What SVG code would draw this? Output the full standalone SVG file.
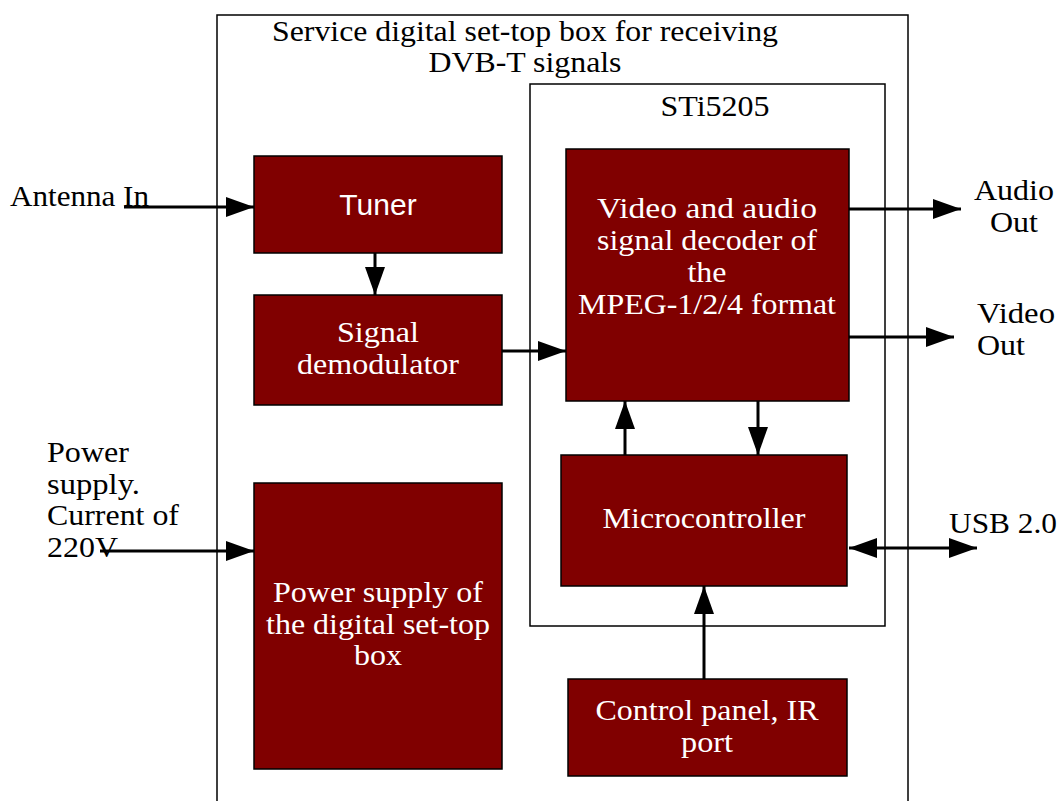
<svg xmlns="http://www.w3.org/2000/svg" width="1061" height="801" viewBox="0 0 1061 801">
<style>
.frame{fill:none;stroke:#000;stroke-width:1.5}
.blk{fill:#800000;stroke:#000;stroke-width:1.5}
.t{font-family:"Liberation Serif","Times New Roman",serif;font-size:29px;fill:#000}
.w{font-family:"Liberation Serif","Times New Roman",serif;font-size:29px;fill:#fff;text-anchor:middle}
.ws{font-family:"Liberation Sans",Arial,sans-serif;font-size:30px;fill:#fff;text-anchor:middle}
.c{stroke:#000;stroke-width:3;fill:none}
</style>
<defs>
<marker id="ah" markerWidth="28" markerHeight="20" refX="28" refY="10" orient="auto" markerUnits="userSpaceOnUse">
<path d="M0,0 L28,10 L0,20 Z" fill="#000"/>
</marker>
<marker id="as" markerWidth="28" markerHeight="20" refX="0" refY="10" orient="auto" markerUnits="userSpaceOnUse">
<path d="M28,0 L0,10 L28,20 Z" fill="#000"/>
</marker>
</defs>
<rect width="1061" height="801" fill="#fff"/>
<g id="outer">
<rect class="frame" x="217" y="15" width="691" height="800"/>
<text class="t" x="525" y="41" text-anchor="middle" textLength="506" lengthAdjust="spacingAndGlyphs">Service digital set-top box for receiving</text>
<text class="t" x="525" y="72" text-anchor="middle" textLength="193" lengthAdjust="spacingAndGlyphs">DVB-T signals</text>
</g>
<g id="sti5205">
<rect class="frame" x="530" y="84" width="355" height="542"/>
<text class="t" x="715" y="116" text-anchor="middle" textLength="109" lengthAdjust="spacingAndGlyphs">STi5205</text>
</g>
<g id="tuner">
<rect class="blk" x="254" y="156" width="248" height="97"/>
<text class="ws" x="378" y="215">Tuner</text>
</g>
<g id="demod">
<rect class="blk" x="254" y="295" width="248" height="110"/>
<text class="w" x="378" y="342" textLength="82" lengthAdjust="spacingAndGlyphs">Signal</text>
<text class="w" x="378" y="374" textLength="162" lengthAdjust="spacingAndGlyphs">demodulator</text>
</g>
<g id="power">
<rect class="blk" x="254" y="483" width="248" height="286"/>
<text class="w" x="378" y="602" textLength="210" lengthAdjust="spacingAndGlyphs">Power supply of</text>
<text class="w" x="378" y="634" textLength="224" lengthAdjust="spacingAndGlyphs">the digital set-top</text>
<text class="w" x="378" y="665" textLength="48" lengthAdjust="spacingAndGlyphs">box</text>
</g>
<g id="decoder">
<rect class="blk" x="566" y="149" width="283" height="252"/>
<text class="w" x="707" y="218" textLength="220" lengthAdjust="spacingAndGlyphs">Video and audio</text>
<text class="w" x="707" y="250" textLength="220" lengthAdjust="spacingAndGlyphs">signal decoder of</text>
<text class="w" x="707" y="282" textLength="39" lengthAdjust="spacingAndGlyphs">the</text>
<text class="w" x="707" y="314" textLength="258" lengthAdjust="spacingAndGlyphs">MPEG-1/2/4 format</text>
</g>
<g id="micro">
<rect class="blk" x="561" y="455" width="286" height="131"/>
<text class="w" x="704" y="528" textLength="203" lengthAdjust="spacingAndGlyphs">Microcontroller</text>
</g>
<g id="control">
<rect class="blk" x="568" y="679" width="279" height="97"/>
<text class="w" x="707" y="720" textLength="223" lengthAdjust="spacingAndGlyphs">Control panel, IR</text>
<text class="w" x="707" y="752" textLength="52" lengthAdjust="spacingAndGlyphs">port</text>
</g>
<g id="labels">
<text class="t" x="10" y="206" textLength="139" lengthAdjust="spacingAndGlyphs">Antenna In</text>
<text class="t" x="47" y="462" textLength="82" lengthAdjust="spacingAndGlyphs">Power</text>
<text class="t" x="47" y="494" textLength="93" lengthAdjust="spacingAndGlyphs">supply.</text>
<text class="t" x="47" y="525" textLength="132" lengthAdjust="spacingAndGlyphs">Current of</text>
<text class="t" x="47" y="557" textLength="71" lengthAdjust="spacingAndGlyphs">220V</text>
<text class="t" x="1014" y="200" text-anchor="middle" textLength="80" lengthAdjust="spacingAndGlyphs">Audio</text>
<text class="t" x="1014" y="232" text-anchor="middle" textLength="48" lengthAdjust="spacingAndGlyphs">Out</text>
<text class="t" x="977" y="323" textLength="78" lengthAdjust="spacingAndGlyphs">Video</text>
<text class="t" x="977" y="355" textLength="48" lengthAdjust="spacingAndGlyphs">Out</text>
<text class="t" x="949" y="533" textLength="108" lengthAdjust="spacingAndGlyphs">USB 2.0</text>
</g>
<g id="connectors">
<line class="c" x1="124" y1="207" x2="254" y2="207" marker-end="url(#ah)"/>
<line class="c" x1="375" y1="253" x2="375" y2="295" marker-end="url(#ah)"/>
<line class="c" x1="502" y1="351" x2="566" y2="351" marker-end="url(#ah)"/>
<line class="c" x1="849" y1="209" x2="961" y2="209" marker-end="url(#ah)"/>
<line class="c" x1="849" y1="337" x2="954" y2="337" marker-end="url(#ah)"/>
<line class="c" x1="625" y1="455" x2="625" y2="401" marker-end="url(#ah)"/>
<line class="c" x1="758" y1="401" x2="758" y2="455" marker-end="url(#ah)"/>
<line class="c" x1="849" y1="548" x2="977" y2="548" marker-start="url(#as)" marker-end="url(#ah)"/>
<line class="c" x1="704" y1="679" x2="704" y2="586" marker-end="url(#ah)"/>
<line class="c" x1="100" y1="551" x2="254" y2="551" marker-end="url(#ah)"/>
</g>
</svg>
